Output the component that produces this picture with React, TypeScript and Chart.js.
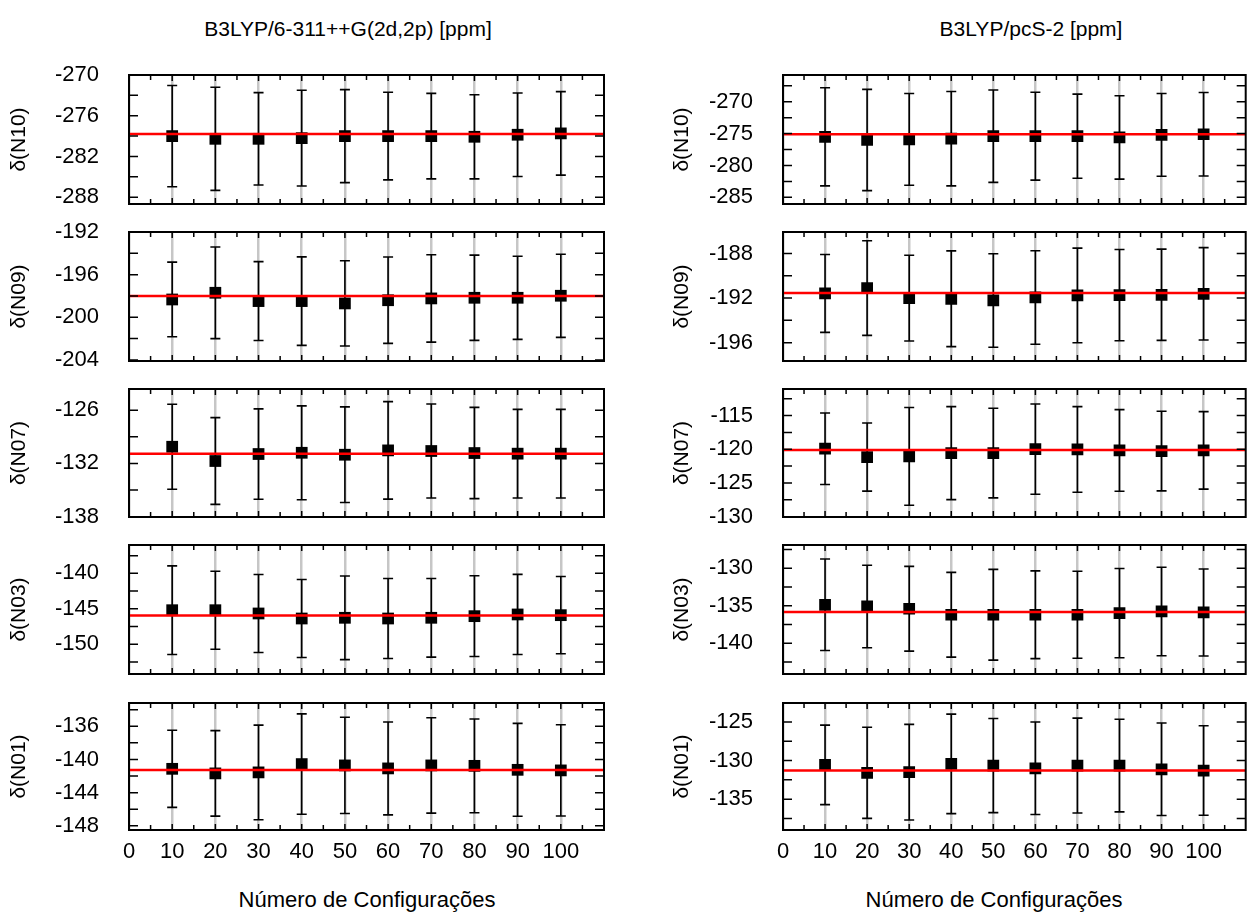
import React, { useEffect, useRef } from 'react';
import { Chart, registerables } from 'chart.js';

Chart.register(...registerables);

// ---------- shared x data ----------
const configs = [10, 20, 30, 40, 50, 60, 70, 80, 90, 100];
const xTickValues = [0, 10, 20, 30, 40, 50, 60, 70, 80, 90, 100];
const xMarkValues = [5, 10, 15, 20, 25, 30, 35, 40, 45, 50, 55, 60, 65, 70, 75, 80, 85, 90, 95, 100, 105];
const xRange = [0, 110];

const titleLeft = 'B3LYP/6-311++G(2d,2p) [ppm]';
const titleRight = 'B3LYP/pcS-2 [ppm]';
const xAxisTitle = 'Número de Configurações';

// ---------- left column: B3LYP/6-311++G(2d,2p) ----------
const a_N10_mean = [-279.0, -279.4, -279.4, -279.3, -279.0, -279.0, -279.0, -279.1, -278.8, -278.6];
const a_N10_err = [7.45, 7.6, 6.8, 7.05, 6.85, 6.45, 6.3, 6.2, 6.15, 6.15];
const a_N10_ref = -278.7;
const a_N10_range = [-289, -270];
const a_N10_labels = [-288, -282, -276, -270];
const a_N10_marks = [-288, -285, -282, -279, -276, -273];

const a_N09_mean = [-198.33, -197.7, -198.48, -198.48, -198.7, -198.4, -198.23, -198.17, -198.17, -197.98];
const a_N09_err = [3.5, 4.3, 3.7, 4.15, 4.0, 4.05, 4.1, 4.0, 3.9, 3.9];
const a_N09_ref = -198.0;
const a_N09_range = [-204.1, -192];
const a_N09_labels = [-204, -200, -196, -192];
const a_N09_marks = [-204, -202, -200, -198, -196, -194];

const a_N07_mean = [-130.12, -131.73, -130.94, -130.8, -131.02, -130.53, -130.6, -130.83, -130.9, -130.9];
const a_N07_err = [4.8, 4.9, 5.1, 5.3, 5.4, 5.5, 5.3, 5.15, 5.0, 5.0];
const a_N07_ref = -130.9;
const a_N07_range = [-138.05, -123.6];
const a_N07_labels = [-138, -132, -126];
const a_N07_marks = [-135, -132, -129, -126];

const a_N03_mean = [-145.2, -145.2, -145.66, -146.37, -146.27, -146.37, -146.27, -146.04, -145.8, -145.9];
const a_N03_err = [6.25, 5.5, 5.5, 5.5, 5.9, 5.65, 5.55, 5.7, 5.65, 5.45];
const a_N03_ref = -145.94;
const a_N03_range = [-154.2, -136.0];
const a_N03_labels = [-150, -145, -140];
const a_N03_marks = [-152.5, -150, -147.5, -145, -142.5, -140, -137.5];

const a_N01_mean = [-141.13, -141.68, -141.56, -140.56, -140.72, -141.08, -140.72, -140.77, -141.25, -141.32];
const a_N01_err = [4.65, 5.15, 5.7, 6.05, 5.8, 5.6, 5.75, 5.65, 5.6, 5.5];
const a_N01_ref = -141.28;
const a_N01_range = [-148.5, -133.2];
const a_N01_labels = [-148, -144, -140, -136];
const a_N01_marks = [-148, -146, -144, -142, -140, -138, -136, -134];

// ---------- right column: B3LYP/pcS-2 ----------
const b_N10_mean = [-275.5, -276.0, -275.9, -275.8, -275.4, -275.4, -275.4, -275.6, -275.2, -275.1];
const b_N10_err = [7.7, 7.95, 7.2, 7.4, 7.25, 6.9, 6.6, 6.55, 6.5, 6.55];
const b_N10_ref = -275.1;
const b_N10_range = [-286.05, -265.8];
const b_N10_labels = [-285, -280, -275, -270];
const b_N10_marks = [-285, -282.5, -280, -277.5, -275, -272.5, -270, -267.5];

const b_N09_mean = [-191.58, -191.1, -192.0, -192.06, -192.21, -191.94, -191.76, -191.73, -191.7, -191.61];
const b_N09_err = [3.5, 4.25, 3.85, 4.3, 4.2, 4.2, 4.25, 4.1, 4.1, 4.15];
const b_N09_ref = -191.55;
const b_N09_range = [-197.65, -186.06];
const b_N09_labels = [-196, -192, -188];
const b_N09_marks = [-196, -194, -192, -190, -188];

const b_N07_mean = [-119.92, -121.16, -121.06, -120.57, -120.57, -119.98, -120.02, -120.17, -120.27, -120.17];
const b_N07_err = [5.3, 5.05, 7.25, 6.9, 6.65, 6.7, 6.35, 6.05, 5.9, 5.75];
const b_N07_ref = -120.1;
const b_N07_range = [-130.05, -111.06];
const b_N07_labels = [-130, -125, -120, -115];
const b_N07_marks = [-127.5, -125, -122.5, -120, -117.5, -115, -112.5];

const b_N03_mean = [-134.87, -135.09, -135.4, -136.2, -136.2, -136.2, -136.2, -135.98, -135.76, -135.89];
const b_N03_err = [6.1, 5.5, 5.65, 5.65, 6.05, 5.85, 5.8, 5.95, 5.9, 5.8];
const b_N03_ref = -135.84;
const b_N03_range = [-144.1, -126.9];
const b_N03_labels = [-140, -135, -130];
const b_N03_marks = [-142.5, -140, -137.5, -135, -132.5, -130, -127.5];

const b_N01_mean = [-130.56, -131.59, -131.51, -130.43, -130.65, -131.0, -130.65, -130.65, -131.13, -131.29];
const b_N01_err = [5.15, 5.9, 6.2, 6.45, 6.1, 6.0, 6.15, 6.0, 6.0, 5.8];
const b_N01_ref = -131.3;
const b_N01_range = [-139.0, -122.54];
const b_N01_labels = [-135, -130, -125];
const b_N01_marks = [-137.5, -135, -132.5, -130, -127.5, -125];

const FONT = "'Liberation Sans', Arial, Helvetica, sans-serif";

type Spec = {
  name: string;
  mean: number[];
  err: number[];
  ref: number;
  range: number[];
  labels: number[];
  marks: number[];
};

const leftSpecs: Spec[] = [
  { name: 'δ(N10)', mean: a_N10_mean, err: a_N10_err, ref: a_N10_ref, range: a_N10_range, labels: a_N10_labels, marks: a_N10_marks },
  { name: 'δ(N09)', mean: a_N09_mean, err: a_N09_err, ref: a_N09_ref, range: a_N09_range, labels: a_N09_labels, marks: a_N09_marks },
  { name: 'δ(N07)', mean: a_N07_mean, err: a_N07_err, ref: a_N07_ref, range: a_N07_range, labels: a_N07_labels, marks: a_N07_marks },
  { name: 'δ(N03)', mean: a_N03_mean, err: a_N03_err, ref: a_N03_ref, range: a_N03_range, labels: a_N03_labels, marks: a_N03_marks },
  { name: 'δ(N01)', mean: a_N01_mean, err: a_N01_err, ref: a_N01_ref, range: a_N01_range, labels: a_N01_labels, marks: a_N01_marks },
];

const rightSpecs: Spec[] = [
  { name: 'δ(N10)', mean: b_N10_mean, err: b_N10_err, ref: b_N10_ref, range: b_N10_range, labels: b_N10_labels, marks: b_N10_marks },
  { name: 'δ(N09)', mean: b_N09_mean, err: b_N09_err, ref: b_N09_ref, range: b_N09_range, labels: b_N09_labels, marks: b_N09_marks },
  { name: 'δ(N07)', mean: b_N07_mean, err: b_N07_err, ref: b_N07_ref, range: b_N07_range, labels: b_N07_labels, marks: b_N07_marks },
  { name: 'δ(N03)', mean: b_N03_mean, err: b_N03_err, ref: b_N03_ref, range: b_N03_range, labels: b_N03_labels, marks: b_N03_marks },
  { name: 'δ(N01)', mean: b_N01_mean, err: b_N01_err, ref: b_N01_ref, range: b_N01_range, labels: b_N01_labels, marks: b_N01_marks },
];

// ---------- layout ----------
const rowTops = [75, 232, 389, 545, 703];
const rowHeights = [129, 129, 128, 129, 127];
const PAD = 14;
const XAXIS_H = 44;

type ColGeom = { canvasLeft: number; canvasWidth: number; axisWidth: number; padRight: number; titlePad: number };
const leftGeom: ColGeom = { canvasLeft: 0, canvasWidth: 640, axisWidth: 129, padRight: 36, titlePad: 7 };
const rightGeom: ColGeom = { canvasLeft: 650, canvasWidth: 604, axisWidth: 133, padRight: 2, titlePad: 20 };

function Panel({ spec, geom, row }: { spec: Spec; geom: ColGeom; row: number }) {
  const ref = useRef<HTMLCanvasElement | null>(null);
  const isBottom = row === rowTops.length - 1;
  const top = rowTops[row] - PAD;
  const height = PAD + rowHeights[row] + (isBottom ? XAXIS_H : PAD);

  useEffect(() => {
    const canvas = ref.current;
    if (!canvas) return;

    const decor = {
      id: 'decor',
      beforeDatasetsDraw(chart: any) {
        const { ctx, chartArea: a, scales } = chart;
        const x = scales.x;
        const y = scales.y;
        ctx.save();
        ctx.beginPath();
        ctx.rect(a.left, a.top, a.right - a.left, a.bottom - a.top);
        ctx.clip();
        ctx.strokeStyle = '#000';
        ctx.lineWidth = 1.6;
        configs.forEach((c, i) => {
          const px = x.getPixelForValue(c);
          const hi = y.getPixelForValue(spec.mean[i] + spec.err[i]);
          const lo = y.getPixelForValue(spec.mean[i] - spec.err[i]);
          ctx.beginPath();
          ctx.moveTo(px, hi);
          ctx.lineTo(px, lo);
          ctx.moveTo(px - 5, hi);
          ctx.lineTo(px + 5, hi);
          ctx.moveTo(px - 5, lo);
          ctx.lineTo(px + 5, lo);
          ctx.stroke();
        });
        ctx.restore();
      },
      afterDraw(chart: any) {
        const { ctx, chartArea: a, scales } = chart;
        const x = scales.x;
        const y = scales.y;
        ctx.save();
        ctx.strokeStyle = '#000';
        ctx.lineWidth = 1.5;
        ctx.beginPath();
        spec.marks.forEach((v) => {
          const py = y.getPixelForValue(v);
          ctx.moveTo(a.left, py);
          ctx.lineTo(a.left + 9, py);
          ctx.moveTo(a.right, py);
          ctx.lineTo(a.right - 9, py);
        });
        xMarkValues.forEach((v) => {
          const px = x.getPixelForValue(v);
          const L = v % 10 === 0 ? 6 : 5;
          ctx.moveTo(px, a.top);
          ctx.lineTo(px, a.top + L);
          ctx.moveTo(px, a.bottom);
          ctx.lineTo(px, a.bottom - L);
        });
        ctx.stroke();
        ctx.lineWidth = 2;
        ctx.strokeRect(a.left, a.top, a.right - a.left, a.bottom - a.top);
        ctx.restore();
      },
    };

    const chart = new Chart(canvas, {
      type: 'scatter',
      data: {
        datasets: [
          {
            type: 'line',
            label: 'ref',
            data: [
              { x: xRange[0], y: spec.ref },
              { x: xRange[1], y: spec.ref },
            ],
            borderColor: '#ff0000',
            borderWidth: 2.5,
            pointRadius: 0,
            fill: false,
          } as any,
          {
            type: 'scatter',
            label: 'mean',
            data: configs.map((c, i) => ({ x: c, y: spec.mean[i] })),
            pointStyle: 'rect',
            pointRadius: 8.3,
            pointBorderWidth: 0,
            backgroundColor: '#000',
            borderColor: '#000',
          } as any,
        ],
      },
      options: {
        animation: false,
        responsive: false,
        devicePixelRatio: 1,
        layout: { padding: { left: 0, right: geom.padRight, top: PAD, bottom: isBottom ? 0 : PAD } },
        plugins: { legend: { display: false }, tooltip: { enabled: false }, title: { display: false } },
        scales: {
          x: {
            type: 'linear',
            min: xRange[0],
            max: xRange[1],
            afterBuildTicks: (s: any) => {
              s.ticks = xTickValues.map((v) => ({ value: v }));
            },
            afterFit: (s: any) => {
              s.height = isBottom ? XAXIS_H : 0;
              s.paddingLeft = 0;
              s.paddingRight = 0;
              s.paddingTop = 0;
              s.paddingBottom = 0;
            },
            grid: { display: true, drawOnChartArea: true, drawTicks: false, color: '#c6c6c6', lineWidth: 2.5 },
            border: { display: false },
            ticks: {
              display: isBottom,
              autoSkip: false,
              maxRotation: 0,
              padding: 9,
              color: '#000',
              font: { family: FONT, size: 22 },
              callback: (v: any) => String(v),
            },
          },
          y: {
            type: 'linear',
            min: spec.range[0],
            max: spec.range[1],
            afterBuildTicks: (s: any) => {
              s.ticks = spec.labels.map((v) => ({ value: v }));
            },
            afterFit: (s: any) => {
              s.width = geom.axisWidth;
              s.paddingTop = 0;
              s.paddingBottom = 0;
              s.paddingLeft = 0;
              s.paddingRight = 0;
            },
            grid: { display: false },
            border: { display: false },
            ticks: {
              padding: 22,
              color: '#000',
              font: { family: FONT, size: 22 },
              callback: (v: any) => String(v),
            },
            title: {
              display: true,
              text: spec.name,
              color: '#000',
              font: { family: FONT, size: 21 },
              padding: { top: geom.titlePad, bottom: 0 },
            },
          },
        },
      },
      plugins: [decor],
    } as any);

    return () => chart.destroy();
  }, [spec, geom, row, isBottom]);

  return (
    <canvas
      ref={ref}
      width={geom.canvasWidth}
      height={height}
      style={{ position: 'absolute', left: geom.canvasLeft, top, width: geom.canvasWidth, height, display: 'block' }}
    />
  );
}

const textStyle = (cx: number, top: number, size: number): React.CSSProperties => ({
  position: 'absolute',
  left: cx,
  top,
  transform: 'translateX(-50%)',
  fontFamily: FONT,
  fontSize: size,
  lineHeight: 1,
  whiteSpace: 'nowrap',
  color: '#000',
});

export default function App() {
  return (
    <div style={{ position: 'absolute', left: 0, top: 0, width: 1254, height: 912, background: '#fff', overflow: 'hidden' }}>
      <div style={textStyle(348, 18, 21)}>{titleLeft}</div>
      <div style={textStyle(1031, 18, 21)}>{titleRight}</div>
      {leftSpecs.map((s, i) => (
        <Panel key={'l' + i} spec={s} geom={leftGeom} row={i} />
      ))}
      {rightSpecs.map((s, i) => (
        <Panel key={'r' + i} spec={s} geom={rightGeom} row={i} />
      ))}
      <div style={textStyle(367, 889, 22)}>{xAxisTitle}</div>
      <div style={textStyle(994, 889, 22)}>{xAxisTitle}</div>
    </div>
  );
}
